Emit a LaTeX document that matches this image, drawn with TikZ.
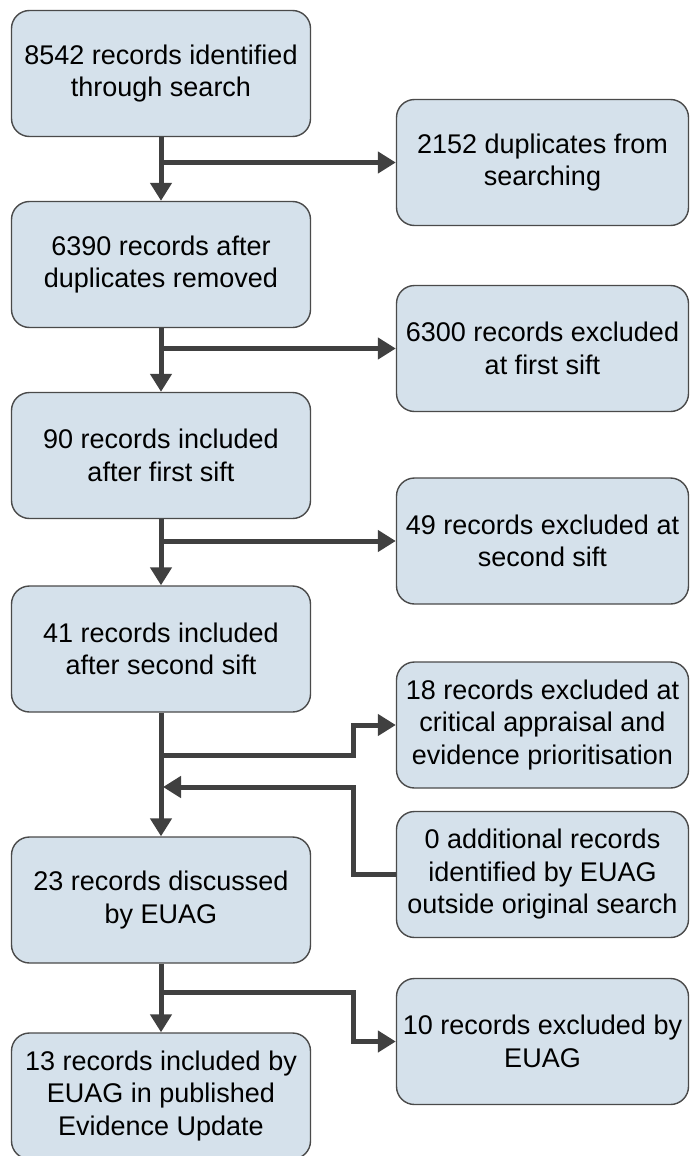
\documentclass[tikz,border=0pt]{standalone}
\usepackage{fontspec}
\setmainfont{Liberation Sans}
\usetikzlibrary{arrows.meta}
\definecolor{boxfill}{HTML}{D5E1EB}
\definecolor{boxline}{HTML}{4A4A4A}
\definecolor{conncol}{HTML}{404040}
\begin{document}
\begin{tikzpicture}[x=1pt,y=-1pt,
  box/.style={draw=boxline, line width=1.4pt, fill=boxfill, rounded corners=18pt,
    minimum height=126pt, align=center, inner sep=0pt,
    font=\fontsize{27}{32.5}\selectfont},
  lbox/.style={box, minimum width=299pt},
  rbox/.style={box, minimum width=292pt},
  conn/.style={draw=conncol, line width=5pt, line join=miter,
    -{Triangle[length=18pt,width=21pt]}},
  plain/.style={draw=conncol, line width=5pt, line join=miter}]
\useasboundingbox (0,0) rectangle (690,1156);
% left column
\node[lbox] (B1) at (161,73.5) {8542 records identified\\through search};
\node[lbox] (B2) at (161,264.5) {6390 records after\\duplicates removed};
\node[lbox] (B3) at (161,455.5) {90 records included\\after first sift};
\node[lbox] (B4) at (161,649) {41 records included\\after second sift};
\node[lbox] (B5) at (161,900) {23 records discussed\\by EUAG};
\node[lbox] (B6) at (161,1096) {13 records included by\\EUAG in published\\Evidence Update};
% right column
\node[rbox] (R1) at (542.5,162.5) {2152 duplicates from\\searching};
\node[rbox] (R2) at (542.5,348.5) {6300 records excluded\\at first sift};
\node[rbox] (R3) at (542.5,541) {49 records excluded at\\second sift};
\node[rbox] (R4) at (542.5,725) {18 records excluded at\\critical appraisal and\\evidence prioritisation};
\node[rbox] (R5) at (542.5,874.5) {0 additional records\\identified by EUAG\\outside original search};
\node[rbox] (R6) at (542.5,1041.5) {10 records excluded by\\EUAG};
% elbow coordinates
\coordinate (j1) at (161,755);
\coordinate (e1) at (353,755);
\coordinate (e2) at (353,787);
\coordinate (j2) at (163,787);
\coordinate (j3) at (161,992);
\coordinate (e3) at (353,992);
% main flow
\draw[conn] (B1.south) -- (B2.north);
\draw[conn] (B2.south) -- (B3.north);
\draw[conn] (B3.south) -- (B4.north);
\draw[conn] (B4.south) -- (B5.north);
\draw[conn] (B5.south) -- (B6.north);
% side branches
\draw[conn] (B1.south |- R1.west) -- (R1.west);
\draw[conn] (B2.south |- R2.west) -- (R2.west);
\draw[conn] (B3.south |- R3.west) -- (R3.west);
\draw[conn] (j1) -- (e1) |- (R4.west);
\draw[conn] (R5.west) -| (e2) -- (j2);
\draw[conn] (j3) -- (e3) |- (R6.west);
\end{tikzpicture}
\end{document}
